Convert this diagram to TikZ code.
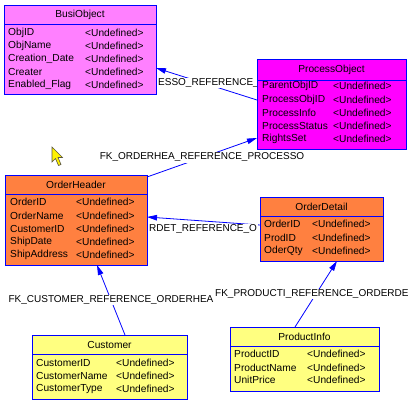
\documentclass[tikz,border=0pt]{standalone}
\usepackage{fontspec}
\setmainfont{Liberation Sans}
\usetikzlibrary{arrows.meta,calc}
\definecolor{busic}{HTML}{FF80FF}
\definecolor{procc}{HTML}{FF00FF}
\definecolor{ordc}{HTML}{FF8040}
\definecolor{custc}{HTML}{FFFF80}
\definecolor{edgec}{HTML}{0000FF}
\newcommand{\ftxt}{\fontsize{10.2}{12}\selectfont}
\newcommand{\ltxt}{\fontsize{10}{12}\selectfont}
\newcommand{\etable}[8]{%
  \node[tbl, fill=#2, minimum width=#5pt, minimum height=#6pt] (#1) at (#3,#4) {};
  \draw[edgec, line width=0.9pt] ($(#1.north west)+(0,#8)$) -- ($(#1.north east)+(0,#8)$);
  \node[ttl] at ($(#1.north)+(0,#8/2)$) {#7};
}
\newcommand{\erow}[5]{%
  \node[fld] at (#1,#3) {#4};
  \node[fld] at (#2,#3) {#5};
}
\begin{document}
\begin{tikzpicture}[x=1pt,y=-1pt,
  tbl/.style={draw=edgec, line width=0.9pt, anchor=north west, inner sep=0pt, outer sep=0pt},
  ttl/.style={font=\ftxt, inner sep=0pt},
  fld/.style={font=\ftxt, anchor=west, inner sep=0pt},
  rel/.style={draw=edgec, line width=0.8pt, -{Triangle[length=10pt,width=5.5pt]}},
  lbl/.style={fill=white, inner sep=1pt, font=\ltxt},
  cursorc/.style={fill=yellow, draw=black!75!yellow, line width=0.6pt, line join=miter}]
\useasboundingbox (0,0) rectangle (410,404);
\fill[white] (0,0) rectangle (410,404);

% anchor points of the tables (tables themselves are drawn after the lines)
\path (4,5) coordinate (busiNW) (156,5) coordinate (busiNE);
\path (257,59) coordinate (procNW);
\path (5,175) coordinate (ordhNW) (147,175) coordinate (ordhNE) (5,265) coordinate (ordhSW);
\path (260,197) coordinate (orddNW) (260,261) coordinate (orddSW);
\path (32,335) coordinate (custNW);
\path (230,327) coordinate (prodNW);

% connectors
\draw[rel] ($(procNW)+(0,41)$) coordinate (r1a) -- ($(busiNE)+(0,63)$) coordinate (r1b);
\node[lbl, anchor=west] (l1) at (157,83) {ESSO\_REFERENCE\_};

\draw[rel] ($(ordhNE)+(0,2)$) coordinate (r2a) -- ($(procNW)+(0,79)$) coordinate (r2b);
\node[lbl] (l2) at ($(r2a)!0.5!(r2b)$) {FK\_ORDERHEA\_REFERENCE\_PROCESSO};

\draw[rel] ($(orddNW)+(0,28)$) coordinate (r3a) -- ($(ordhNE)+(0,42)$) coordinate (r3b);
\node[lbl, anchor=west] (l3) at (148,229) {RDET\_REFERENCE\_O};

\draw[rel] ($(custNW)+(93,0)$) coordinate (r4a) -- ($(ordhSW)+(92,0)$) coordinate (r4b);
\node[lbl] (l4) at ($(r4a)!0.5!(r4b)$) {FK\_CUSTOMER\_REFERENCE\_ORDERHEA};

\draw[rel] ($(prodNW)+(65,0)$) coordinate (r5a) -- ($(orddSW)+(77,0)$) coordinate (r5b);
\node[lbl, anchor=west] (l5) at (214,294) {FK\_PRODUCTI\_REFERENCE\_ORDERDE};

% tables
\etable{busi}{busic}{4}{5}{152}{89}{BusiObject}{19}
\erow{8}{85}{33}{ObjID}{<Undefined>}
\erow{8}{85}{46}{ObjName}{<Undefined>}
\erow{8}{85}{59}{Creation\_Date}{<Undefined>}
\erow{8}{85}{72}{Creater}{<Undefined>}
\erow{8}{85}{85}{Enabled\_Flag}{<Undefined>}

\etable{proc}{procc}{257}{59}{149}{90}{ProcessObject}{21}
\erow{262}{333}{86}{ParentObjID}{<Undefined>}
\erow{262}{333}{100}{ProcessObjID}{<Undefined>}
\erow{262}{333}{113}{ProcessInfo}{<Undefined>}
\erow{262}{333}{126}{ProcessStatus}{<Undefined>}
\erow{262}{333}{139}{RightsSet}{<Undefined>}

\etable{ordh}{ordc}{5}{175}{142}{90}{OrderHeader}{19}
\erow{10}{76}{202.3}{OrderID}{<Undefined>}
\erow{10}{76}{215.5}{OrderName}{<Undefined>}
\erow{10}{76}{228.7}{CustomerID}{<Undefined>}
\erow{10}{76}{241.7}{ShipDate}{<Undefined>}
\erow{10}{76}{255}{ShipAddress}{<Undefined>}

\etable{ordd}{ordc}{260}{197}{123}{64}{OrderDetail}{19}
\erow{264}{312}{224.3}{OrderID}{<Undefined>}
\erow{264}{312}{237.7}{ProdID}{<Undefined>}
\erow{264}{312}{250.7}{OderQty}{<Undefined>}

\etable{cust}{custc}{32}{335}{155}{64}{Customer}{19}
\erow{36}{116}{362.7}{CustomerID}{<Undefined>}
\erow{36}{116}{375.7}{CustomerName}{<Undefined>}
\erow{36}{116}{388.7}{CustomerType}{<Undefined>}

\etable{prod}{custc}{230}{327}{149}{64}{ProductInfo}{19}
\erow{234}{307}{354.3}{ProductID}{<Undefined>}
\erow{234}{307}{367.7}{ProductName}{<Undefined>}
\erow{234}{307}{380.3}{UnitPrice}{<Undefined>}

% mouse cursor
\draw[cursorc] (52,147) -- (52,162) -- (55.5,158.5) -- (58.5,165.5) -- (61,164.5) -- (58,157.5) -- (62.5,157.5) -- cycle;
\end{tikzpicture}
\end{document}
